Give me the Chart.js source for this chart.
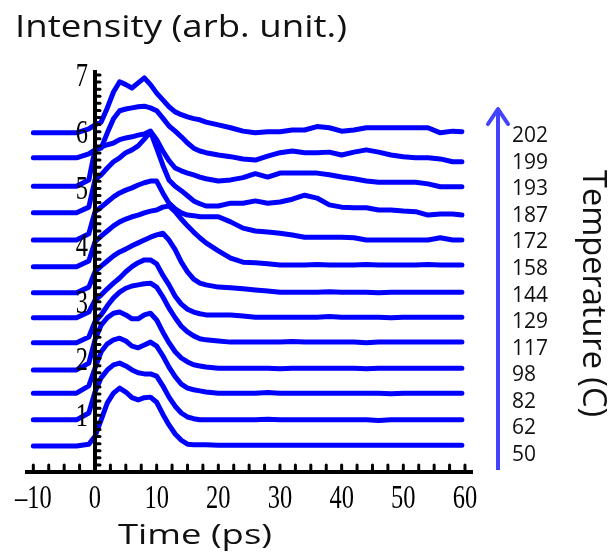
<!DOCTYPE html>
<html>
<head>
<meta charset="utf-8">
<script src="https://cdn.jsdelivr.net/npm/chart.js@4.4.0/dist/chart.umd.min.js"></script>
<style>
  html, body { margin: 0; padding: 0; background: #fff; }
  #wrap { width: 614px; height: 559px; }
</style>
</head>
<body>
<div id="wrap"><canvas id="chart" width="614" height="559"></canvas></div>
<script>
// time axis (ps), shared by every trace
const times = [-10, -3, -1, 0, 1, 2, 3, 4, 5, 6, 7, 8, 9, 10, 11, 12, 13, 14, 15, 16, 17, 18,
  20, 22, 24, 26, 28, 30, 32, 34, 36, 38, 40, 42, 44, 46, 48, 50, 52, 54, 56, 58, 59.5];

// temperatures (C), bottom trace first
const temps = [50, 62, 82, 98, 117, 129, 144, 158, 172, 187, 193, 199, 202];

// intensity traces (arb. unit, already offset)
const s50 = [0.46, 0.46, 0.49, 0.63, 0.92, 1.22, 1.39, 1.48, 1.41, 1.31, 1.27, 1.31, 1.32, 1.23, 1.02, 0.83, 0.67, 0.56, 0.49, 0.48,
  0.48, 0.48, 0.47, 0.47, 0.47, 0.47, 0.47, 0.47, 0.47, 0.47, 0.47, 0.47, 0.47, 0.47, 0.47, 0.47, 0.47, 0.47, 0.47, 0.47, 0.47, 0.47, 0.47];
const s62 = [0.92, 0.92, 1.04, 1.41, 1.66, 1.80, 1.89, 1.92, 1.87, 1.80, 1.75, 1.73, 1.73, 1.69, 1.52, 1.32, 1.16, 1.04, 0.97, 0.94,
  0.92, 0.92, 0.92, 0.92, 0.92, 0.92, 0.93, 0.92, 0.92, 0.92, 0.92, 0.92, 0.92, 0.92, 0.92, 0.91, 0.92, 0.92, 0.92, 0.92, 0.92, 0.92, 0.92];
const s82 = [1.39, 1.39, 1.52, 1.83, 2.12, 2.26, 2.33, 2.36, 2.31, 2.22, 2.19, 2.24, 2.29, 2.22, 2.05, 1.85, 1.68, 1.55, 1.48, 1.45,
  1.43, 1.41, 1.39, 1.39, 1.39, 1.39, 1.40, 1.39, 1.39, 1.39, 1.39, 1.39, 1.39, 1.39, 1.39, 1.39, 1.38, 1.39, 1.39, 1.39, 1.39, 1.39, 1.39];
const s98 = [1.80, 1.80, 1.92, 2.33, 2.59, 2.72, 2.80, 2.82, 2.77, 2.70, 2.70, 2.77, 2.80, 2.68, 2.47, 2.28, 2.12, 2.01, 1.94, 1.89,
  1.87, 1.85, 1.83, 1.83, 1.83, 1.83, 1.83, 1.82, 1.83, 1.83, 1.83, 1.83, 1.83, 1.83, 1.82, 1.83, 1.83, 1.83, 1.83, 1.83, 1.83, 1.83, 1.83];
const s117 = [2.28, 2.28, 2.38, 2.65, 2.77, 2.93, 3.07, 3.17, 3.24, 3.28, 3.30, 3.32, 3.33, 3.26, 3.09, 2.89, 2.72, 2.57, 2.47, 2.40,
  2.35, 2.33, 2.31, 2.29, 2.29, 2.29, 2.29, 2.29, 2.30, 2.29, 2.29, 2.29, 2.29, 2.29, 2.28, 2.29, 2.29, 2.29, 2.29, 2.29, 2.29, 2.29, 2.29];
const s129 = [2.72, 2.72, 2.82, 3.03, 3.12, 3.23, 3.33, 3.42, 3.53, 3.62, 3.69, 3.74, 3.74, 3.67, 3.47, 3.30, 3.10, 2.96, 2.87, 2.82,
  2.79, 2.77, 2.77, 2.77, 2.75, 2.73, 2.73, 2.73, 2.73, 2.73, 2.73, 2.74, 2.73, 2.73, 2.73, 2.73, 2.72, 2.73, 2.73, 2.73, 2.73, 2.73, 2.73];
const s144 = [3.16, 3.16, 3.26, 3.53, 3.63, 3.72, 3.81, 3.88, 3.93, 3.99, 4.04, 4.09, 4.14, 4.18, 4.21, 4.09, 3.92, 3.70, 3.53, 3.40,
  3.33, 3.30, 3.26, 3.25, 3.23, 3.21, 3.19, 3.17, 3.17, 3.17, 3.17, 3.18, 3.17, 3.17, 3.17, 3.16, 3.17, 3.17, 3.17, 3.17, 3.17, 3.17, 3.17];
const s158 = [3.62, 3.62, 3.72, 4.06, 4.16, 4.25, 4.34, 4.41, 4.46, 4.50, 4.53, 4.57, 4.60, 4.62, 4.67, 4.69, 4.59, 4.46, 4.34, 4.23,
  4.13, 4.04, 3.90, 3.77, 3.70, 3.69, 3.67, 3.65, 3.65, 3.65, 3.66, 3.65, 3.65, 3.65, 3.66, 3.65, 3.65, 3.65, 3.65, 3.66, 3.65, 3.65, 3.65];
const s172 = [4.09, 4.09, 4.20, 4.59, 4.67, 4.76, 4.85, 4.92, 4.97, 5.01, 5.06, 5.10, 5.13, 5.13, 4.92, 4.74, 4.64, 4.57, 4.53, 4.52,
  4.50, 4.50, 4.50, 4.41, 4.30, 4.25, 4.23, 4.21, 4.18, 4.14, 4.14, 4.14, 4.14, 4.13, 4.09, 4.09, 4.09, 4.09, 4.09, 4.09, 4.13, 4.09, 4.09];
const s187 = [4.57, 4.57, 4.67, 5.15, 5.24, 5.36, 5.47, 5.54, 5.63, 5.68, 5.75, 5.87, 6.00, 5.71, 5.41, 5.15, 5.04, 4.96, 4.87, 4.78,
  4.73, 4.69, 4.69, 4.74, 4.74, 4.78, 4.74, 4.76, 4.81, 4.88, 4.83, 4.71, 4.67, 4.66, 4.66, 4.62, 4.62, 4.60, 4.59, 4.53, 4.55, 4.55, 4.53];
const s193 = [5.04, 5.04, 5.15, 5.68, 5.73, 5.77, 5.80, 5.86, 5.89, 5.91, 5.94, 5.96, 6.01, 5.86, 5.66, 5.49, 5.36, 5.31, 5.27, 5.24,
  5.20, 5.17, 5.13, 5.15, 5.19, 5.26, 5.20, 5.27, 5.27, 5.27, 5.27, 5.24, 5.20, 5.17, 5.13, 5.11, 5.11, 5.11, 5.11, 5.08, 5.03, 5.03, 5.03];
const s199 = [5.54, 5.54, 5.61, 5.68, 5.71, 5.98, 6.23, 6.37, 6.40, 6.42, 6.44, 6.45, 6.42, 6.37, 6.24, 6.10, 6.01, 5.91, 5.80, 5.71,
  5.66, 5.63, 5.59, 5.56, 5.52, 5.50, 5.57, 5.63, 5.66, 5.63, 5.63, 5.64, 5.59, 5.64, 5.68, 5.64, 5.59, 5.56, 5.54, 5.54, 5.52, 5.47, 5.47];
const s202 = [5.98, 5.98, 6.05, 6.12, 6.17, 6.42, 6.70, 6.88, 6.83, 6.77, 6.86, 6.95, 6.83, 6.68, 6.56, 6.44, 6.35, 6.30, 6.26, 6.23,
  6.21, 6.17, 6.12, 6.07, 6.01, 5.98, 6.00, 6.00, 6.03, 6.03, 6.09, 6.07, 6.01, 6.03, 6.07, 6.07, 6.07, 6.07, 6.07, 6.07, 5.98, 6.01, 6.00];

const traces = [s50, s62, s82, s98, s117, s129, s144, s158, s172, s187, s193, s199, s202];

// tick labels
const xTickLabels = [-10, 0, 10, 20, 30, 40, 50, 60];
const yTickLabels = [1, 2, 3, 4, 5, 6, 7];
const xMinorStep = 2.5;
const yMinorStep = 0.125;

// draw text squeezed/stretched to a given width
function fitText(ctx, text, x, y, width, font) {
    ctx.font = font;
    const w = ctx.measureText(text).width;
    ctx.save();
    ctx.translate(x, y);
    ctx.scale(width / w, 1);
    ctx.textAlign = 'left';
    ctx.textBaseline = 'alphabetic';
    ctx.fillText(text, 0, 0);
    ctx.restore();
}

const axesPlugin = {
    id: 'axesPlugin',
    afterDatasetsDraw(chart) {
        const { ctx, chartArea, scales: { x, y } } = chart;
        const x0 = x.getPixelForValue(0);
        const y0 = y.getPixelForValue(0);

        ctx.save();
        ctx.strokeStyle = '#000';
        ctx.fillStyle = '#000';
        ctx.lineCap = 'round';

        // minor ticks (small dots inside the axes)
        ctx.lineWidth = 3;
        for (let v = xTickLabels[0]; v <= xTickLabels[xTickLabels.length - 1] + 0.01; v += xMinorStep) {
            const px = x.getPixelForValue(v);
            ctx.beginPath();
            ctx.moveTo(px, y0 - 1);
            ctx.lineTo(px, y0 - 7);
            ctx.stroke();
        }
        for (let v = yMinorStep; v <= 7.001; v += yMinorStep) {
            const py = y.getPixelForValue(v);
            ctx.beginPath();
            ctx.moveTo(x0 + 1, py);
            ctx.lineTo(x0 + 5, py);
            ctx.stroke();
        }

        // axis lines
        ctx.lineCap = 'butt';
        ctx.lineWidth = 4;
        ctx.beginPath();
        ctx.moveTo(chartArea.left, y0);
        ctx.lineTo(chartArea.right, y0);
        ctx.stroke();
        ctx.beginPath();
        ctx.moveTo(x0, y0);
        ctx.lineTo(x0, chartArea.top);
        ctx.stroke();

        // tick labels, tall narrow serif digits
        ctx.font = '34px "Liberation Serif"';
        ctx.textBaseline = 'alphabetic';
        xTickLabels.forEach(v => {
            const txt = v < 0 ? '\u2013' + Math.abs(v) : String(v);
            ctx.save();
            ctx.translate(x.getPixelForValue(v), y0 + 36);
            ctx.scale(0.72, 1);
            ctx.textAlign = 'center';
            ctx.fillText(txt, 0, 0);
            ctx.restore();
        });
        yTickLabels.forEach(v => {
            ctx.save();
            ctx.translate(x0 - 7, y.getPixelForValue(v) + 11);
            ctx.scale(0.72, 1);
            ctx.textAlign = 'right';
            ctx.fillText(String(v), 0, 0);
            ctx.restore();
        });

        // axis titles
        ctx.fillStyle = '#111';
        fitText(ctx, 'Intensity (arb. unit.)', 15, 37, 332, '31px "Open Sans"');
        fitText(ctx, 'Time (ps)', 118, 544, 154, '27px "Open Sans"');

        ctx.save();
        ctx.translate(583, 170);
        ctx.rotate(Math.PI / 2);
        fitText(ctx, 'Temperature (C)', 0, 0, 247, '32px "Open Sans"');
        ctx.restore();

        // temperature labels beside the traces
        ctx.font = '21px "Open Sans"';
        ctx.textAlign = 'left';
        ctx.textBaseline = 'middle';
        temps.forEach((t, i) => {
            ctx.fillText(String(t), 512, 455 - i * 26.58);
        });

        // temperature arrow
        ctx.strokeStyle = '#4242ff';
        ctx.lineWidth = 4;
        ctx.lineCap = 'butt';
        ctx.beginPath();
        ctx.moveTo(498, 470);
        ctx.lineTo(498, 110);
        ctx.stroke();
        ctx.lineCap = 'round';
        ctx.lineJoin = 'round';
        ctx.beginPath();
        ctx.moveTo(488, 124);
        ctx.lineTo(498, 109);
        ctx.lineTo(508, 124);
        ctx.stroke();

        ctx.restore();
    }
};

const ctx = document.getElementById('chart').getContext('2d');
new Chart(ctx, {
    type: 'line',
    data: {
        datasets: traces.map((vals, i) => ({
            label: temps[i] + ' C',
            data: times.map((t, j) => ({ x: t, y: vals[j] })),
            borderColor: '#0000ff',
            borderWidth: 5,
            borderJoinStyle: 'round',
            borderCapStyle: 'round',
            pointRadius: 0,
            tension: 0,
            fill: false
        }))
    },
    options: {
        responsive: false,
        animation: false,
        devicePixelRatio: 1,
        layout: { padding: { left: 25, right: 141, top: 70, bottom: 87 } },
        plugins: {
            legend: { display: false },
            tooltip: { enabled: false }
        },
        scales: {
            x: { type: 'linear', min: -11.35, max: 61.3, display: false },
            y: { type: 'linear', min: 0, max: 7.088, display: false }
        }
    },
    plugins: [axesPlugin]
});
</script>
</body>
</html>
